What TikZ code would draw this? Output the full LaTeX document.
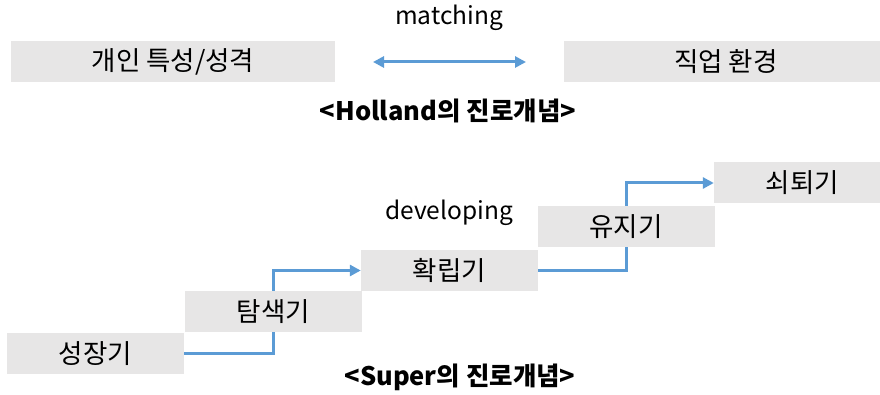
\documentclass[tikz,border=0pt]{standalone}
\usepackage{fontspec}
\setmainfont{Noto Sans CJK KR}
\usetikzlibrary{arrows.meta,backgrounds}
\definecolor{boxgray}{HTML}{E7E6E6}
\definecolor{flowblue}{HTML}{5B9BD5}
\tikzset{
  stagebox/.style={fill=boxgray, minimum width=177pt, minimum height=41pt,
    inner sep=0pt, font=\fontsize{26.5}{28}\selectfont},
  widebox/.style={fill=boxgray, minimum width=324pt, minimum height=41pt,
    inner sep=0pt, font=\fontsize{26.5}{28}\selectfont},
  flow/.style={draw=flowblue, line width=3pt, -{Triangle[length=11pt,width=11pt]}},
  twoway/.style={draw=flowblue, line width=3pt,
    {Triangle[length=11pt,width=11pt]}-{Triangle[length=11pt,width=11pt]}},
  caption/.style={font=\fontsize{24.5}{26}\selectfont},
  heading/.style={font=\bfseries\fontsize{25.5}{27}\selectfont}
}
\begin{document}
\begin{tikzpicture}[x=1pt,y=-1pt]
\useasboundingbox (0,0) rectangle (880,395);
\begin{scope}
\clip (0,0) rectangle (880,395);
% Holland: person and environment
\node[widebox] (person) at (173,61.5) {개인 특성/성격};
\node[widebox] (work) at (726,61.5) {직업 환경};
\node[caption] (match) at (449,18) {matching};
\coordinate (ml) at (373,62);
\coordinate (mr) at (526,62);
\draw[twoway] (ml) -- (mr);
\node[heading] (holland) at (448,111) {<Holland의 진로개념>};
% Super: career stages
\node[stagebox] (s1) at (95.5,353.5) {성장기};
\node[stagebox] (s2) at (273.5,311.5) {탐색기};
\node[stagebox] (s3) at (449.5,270.5) {확립기};
\node[stagebox] (s4) at (626,226.5) {유지기};
\node[stagebox] (s5) at (802.5,183) {쇠퇴기};
\node[caption] (dev) at (449,213) {developing};
\node[heading] (super) at (460,377) {<Super의 진로개념>};
\begin{scope}[on background layer]
\draw[flow] (s1.east) -- (s1.east -| s2.center) |- (s3.west);
\draw[flow] (s3.east) -- (s3.east -| s4.center) |- (s5.west);
\end{scope}
\end{scope}
\end{tikzpicture}
\end{document}
